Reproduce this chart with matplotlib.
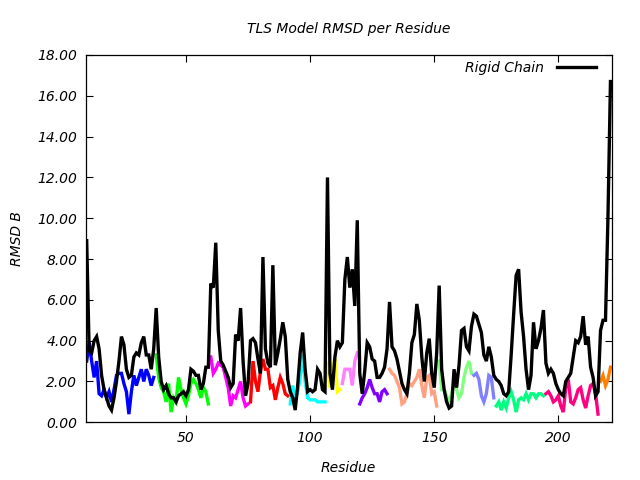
import matplotlib
matplotlib.use("Agg")
import matplotlib.pyplot as plt
import numpy as np

# ---- data ----
rigid_start = 10
rigid_rmsd = [
    8.9, 3.5, 3.4, 4.0, 4.2, 3.6, 2.3, 1.6, 1.2, 0.8,      # 10-19
    0.6, 1.2, 2.0, 3.0, 4.2, 3.8, 2.6, 2.2, 2.3, 3.2,      # 20-29
    3.4, 3.3, 3.9, 4.2, 3.3, 3.3, 2.6, 3.6, 5.6, 3.2,      # 30-39
    2.0, 1.6, 1.8, 1.4, 1.2, 1.2, 1.0, 1.3, 1.4, 1.5,      # 40-49
    1.3, 1.6, 2.6, 2.5, 2.3, 2.3, 1.6, 1.9, 2.7, 2.7,      # 50-59
    6.8, 6.6, 8.8, 4.5, 3.0, 2.8, 2.5, 2.2, 1.7, 1.9,      # 60-69
    4.3, 4.0, 5.6, 3.0, 1.3, 1.9, 4.0, 4.1, 3.9, 3.1,      # 70-79
    2.4, 8.1, 3.6, 2.9, 2.7, 7.7, 2.8, 3.4, 4.1, 4.9,      # 80-89
    4.2, 2.1, 1.5, 1.2, 0.6, 1.8, 3.4, 4.4, 2.6, 1.5,      # 90-99
    1.6, 1.5, 1.6, 2.6, 2.4, 1.6, 1.5, 12.0, 2.4, 1.6,     # 100-109
    3.2, 4.0, 3.7, 3.9, 7.0, 8.1, 6.6, 7.5, 5.7, 9.9,      # 110-119
    2.4, 1.4, 2.5, 3.9, 3.7, 3.1, 3.0, 2.2, 2.2, 2.4,      # 120-129
    2.7, 3.6, 5.9, 3.7, 3.5, 3.1, 2.5, 1.9, 1.6, 1.4,      # 130-139
    2.4, 3.9, 4.3, 5.8, 5.0, 3.2, 2.0, 3.4, 4.1, 2.4,      # 140-149
    1.7, 3.4, 6.7, 2.6, 1.6, 1.0, 0.7, 0.8, 2.6, 1.7,      # 150-159
    2.8, 4.5, 4.6, 3.7, 3.5, 4.7, 5.3, 5.2, 4.8, 4.4,      # 160-169
    3.3, 3.0, 3.7, 3.2, 2.3, 2.1, 2.0, 1.8, 1.4, 1.3,      # 170-179
    1.5, 3.3, 5.3, 7.2, 7.5, 5.4, 4.2, 2.6, 1.6, 2.3,      # 180-189
    4.9, 3.6, 4.0, 4.6, 5.5, 2.9, 2.4, 2.6, 2.4, 1.9,      # 190-199
    1.6, 1.4, 1.3, 2.0, 2.2, 2.4, 3.2, 4.0, 3.9, 4.2,      # 200-209
    5.2, 3.8, 4.2, 2.7, 2.2, 1.3, 1.5, 4.5, 5.0, 5.0,      # 210-219
    10.1, 16.7,                                            # 220-221
]

group_starts = [10, 38, 60, 76, 92, 107, 113, 120, 132, 152, 166, 175, 195, 217]
group_colors = ["#0000ff", "#00ff00", "#ff00ff", "#ff0000", "#00ffff", "#ffff00",
                "#ff80ff", "#8000ff", "#ffa080", "#80ff80", "#8080ff", "#00ff80",
                "#ff0080", "#ff8000"]
grp_blue = [3.0, 3.9, 3.0, 2.2, 3.0, 1.4, 1.3, 1.6, 1.2, 1.5,
            1.0, 1.6, 2.3, 2.4, 2.4, 1.9, 1.5, 0.4, 1.5, 2.3,
            1.8, 2.2, 2.6, 2.0, 2.6, 2.3, 1.8, 2.2]
grp_green = [3.3, 2.2, 1.7, 1.5, 1.0, 1.9, 0.5, 1.2, 1.0, 2.2,
             1.6, 1.2, 0.9, 1.3, 1.9, 2.1, 1.9, 1.6, 1.2, 1.7,
             1.5, 0.9]
grp_magenta = [3.2, 2.4, 2.6, 2.9, 2.8, 2.7, 2.2, 1.7, 0.8, 1.3,
               1.2, 1.6, 2.0, 1.2, 0.8, 0.9]
grp_red = [1.0, 3.0, 2.0, 1.5, 2.5, 3.1, 2.6, 2.6, 1.7, 1.8,
           1.1, 1.7, 2.2, 1.9, 1.4, 1.3]
grp_cyan = [0.9, 1.8, 1.1, 1.5, 2.2, 3.3, 2.0, 1.2, 1.1, 1.1,
            1.1, 1.0, 1.0, 1.0, 1.0]
grp_yellow = [2.9, 1.7, 2.8, 3.1, 1.5, 1.6]
grp_violet = [1.9, 2.6, 2.6, 2.6, 1.8, 3.0, 3.4]
grp_purple = [0.9, 1.2, 1.4, 1.7, 2.1, 1.7, 1.4, 1.4, 1.0, 1.5,
              1.6, 1.4]
grp_salmon = [2.6, 2.4, 2.3, 2.0, 1.7, 0.9, 1.0, 1.4, 1.9, 1.8,
              2.0, 2.2, 2.6, 1.8, 1.2, 2.2, 2.3, 1.4, 1.5, 0.8]
grp_lightgreen = [3.0, 1.6, 1.6, 1.3, 1.0, 1.4, 2.0, 1.6, 1.2, 1.4,
                  2.2, 2.7, 3.0, 2.4]
grp_periwinkle = [2.3, 2.4, 2.1, 1.3, 1.0, 1.4, 2.3, 2.2, 1.2]
grp_springgreen = [0.8, 1.0, 0.6, 1.0, 0.7, 1.2, 1.5, 1.1, 0.5, 1.1,
                   1.2, 1.1, 1.4, 1.1, 1.4, 1.4, 1.2, 1.4, 1.4, 1.3]
grp_deeppink = [1.4, 1.5, 1.3, 1.0, 1.1, 1.3, 0.8, 0.5, 1.7, 2.1,
                1.0, 0.9, 1.2, 1.6, 1.7, 1.1, 0.7, 1.3, 1.8, 1.9,
                1.4, 0.4]
grp_orange = [2.0, 2.3, 1.8, 2.1, 2.7]

groups = [grp_blue, grp_green, grp_magenta, grp_red, grp_cyan, grp_yellow,
          grp_violet, grp_purple, grp_salmon, grp_lightgreen, grp_periwinkle,
          grp_springgreen, grp_deeppink, grp_orange]

x_ticks = [50, 100, 150, 200]
y_ticks = [0, 2, 4, 6, 8, 10, 12, 14, 16, 18]

# ---- plot ----
plt.rcParams['font.family'] = ['DejaVu Sans']
fig = plt.figure(figsize=(6.4, 4.8), dpi=100)
ax = fig.add_axes([85.7 / 640, 1 - 422.3 / 480, (611.7 - 85.7) / 640, (422.3 - 55) / 480])

for start, vals, col in zip(group_starts, groups, group_colors):
    xs = np.arange(start, start + len(vals))
    ax.plot(xs, vals, color=col, lw=2.4, solid_joinstyle='miter')

rx = np.arange(rigid_start, rigid_start + len(rigid_rmsd))
ax.plot(rx, rigid_rmsd, color='black', lw=2.4, label='Rigid Chain', solid_joinstyle='miter')

ax.set_xlim(9.6, 221.5)
ax.set_ylim(0, 18)
ax.set_xticks(x_ticks)
ax.set_yticks(y_ticks)
ax.set_yticklabels([f"{v:.2f}" for v in y_ticks], fontstyle='italic', fontsize=10)
ax.set_xticklabels([str(v) for v in x_ticks], fontstyle='italic', fontsize=10)
ax.tick_params(direction='in', length=5, width=0.8, top=True, right=True, pad=6)
for s in ax.spines.values():
    s.set_linewidth(0.9)

ax.set_title("TLS Model RMSD per Residue", fontstyle='italic', fontsize=10, pad=16)
ax.set_xlabel("Residue", fontstyle='italic', fontsize=10, labelpad=12)
ax.set_ylabel("RMSD B", fontstyle='italic', fontsize=10, labelpad=10)

leg = ax.legend(loc='upper right', frameon=False, markerfirst=False,
                prop={'style': 'italic', 'size': 10}, handlelength=2.8,
                handletextpad=0.9, borderaxespad=0.4,
                bbox_to_anchor=(1 - 5 / 526, 1 + 5 / 367))

fig.savefig("out.png", dpi=100)
